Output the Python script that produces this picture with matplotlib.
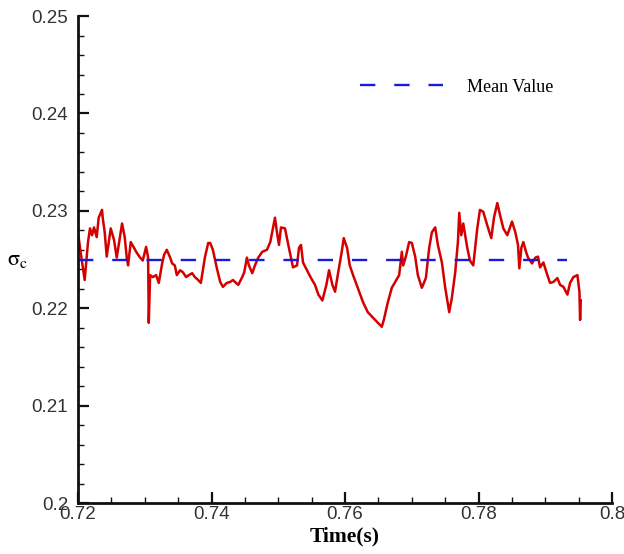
import numpy as np
import matplotlib
matplotlib.use('Agg')
import matplotlib.pyplot as plt
from matplotlib.ticker import MultipleLocator

# ---- data ----
time_s = [0.7200, 0.7203, 0.7210, 0.7215, 0.7218, 0.7221, 0.7224, 0.7228, 0.7231, 0.7236,
          0.7237, 0.7240, 0.7243, 0.7249, 0.7254, 0.7258, 0.7266, 0.7270, 0.7273, 0.7275,
          0.7279, 0.7284, 0.7288, 0.7293, 0.7297, 0.7302, 0.7305, 0.7306, 0.7308, 0.7312,
          0.7317, 0.7321, 0.7326, 0.7329, 0.7333, 0.7338, 0.7341, 0.7345, 0.7348, 0.7353,
          0.7357, 0.7362, 0.7366, 0.7371, 0.7375, 0.7380, 0.7384, 0.7390, 0.7395, 0.7398,
          0.7402, 0.7408, 0.7413, 0.7417, 0.7423, 0.7428, 0.7432, 0.7440, 0.7446, 0.7449,
          0.7453, 0.7456, 0.7461, 0.7465, 0.7470, 0.7476, 0.7483, 0.7488, 0.7492, 0.7495,
          0.7498, 0.7501, 0.7504, 0.7510, 0.7515, 0.7519, 0.7522, 0.7528, 0.7531, 0.7534,
          0.7537, 0.7543, 0.7549, 0.7555, 0.7560, 0.7566, 0.7572, 0.7576, 0.7581, 0.7585,
          0.7589, 0.7595, 0.7598, 0.7603, 0.7607, 0.7612, 0.7619, 0.7627, 0.7634, 0.7645,
          0.7655, 0.7658, 0.7664, 0.7670, 0.7675, 0.7681, 0.7685, 0.7687, 0.7691, 0.7696,
          0.7700, 0.7705, 0.7709, 0.7715, 0.7721, 0.7726, 0.7730, 0.7735, 0.7739, 0.7745,
          0.7750, 0.7756, 0.7760, 0.7765, 0.7769, 0.7771, 0.7774, 0.7777, 0.7783, 0.7787,
          0.7792, 0.7798, 0.7802, 0.7807, 0.7813, 0.7819, 0.7823, 0.7828, 0.7832, 0.7837,
          0.7843, 0.7850, 0.7855, 0.7859, 0.7861, 0.7864, 0.7867, 0.7871, 0.7874, 0.7880,
          0.7885, 0.7889, 0.7892, 0.7897, 0.7903, 0.7907, 0.7912, 0.7918, 0.7922, 0.7927,
          0.7933, 0.7937, 0.7942, 0.7948, 0.7951, 0.7952, 0.7953]

sigma_c = [0.2278, 0.2262, 0.2229, 0.2268, 0.2282, 0.2275, 0.2283, 0.2273, 0.2293, 0.2301,
           0.2293, 0.2278, 0.2253, 0.2282, 0.2270, 0.2252, 0.2287, 0.2273, 0.2252, 0.2244,
           0.2268, 0.2262, 0.2257, 0.2252, 0.2249, 0.2263, 0.2252, 0.2185, 0.2234, 0.2232,
           0.2234, 0.2226, 0.2246, 0.2255, 0.2260, 0.2252, 0.2246, 0.2244, 0.2234, 0.2239,
           0.2237, 0.2232, 0.2234, 0.2236, 0.2232, 0.2229, 0.2226, 0.2252, 0.2267, 0.2267,
           0.2260, 0.2241, 0.2227, 0.2222, 0.2226, 0.2227, 0.2229, 0.2224, 0.2232, 0.2237,
           0.2252, 0.2244, 0.2236, 0.2244, 0.2252, 0.2258, 0.2260, 0.2268, 0.2282, 0.2293,
           0.2278, 0.2265, 0.2283, 0.2282, 0.2265, 0.2252, 0.2242, 0.2244, 0.2262, 0.2265,
           0.2247, 0.2239, 0.2231, 0.2224, 0.2214, 0.2208, 0.2224, 0.2239, 0.2224, 0.2217,
           0.2234, 0.2258, 0.2272, 0.2262, 0.2244, 0.2234, 0.2221, 0.2206, 0.2196, 0.2188,
           0.2181, 0.2188, 0.2206, 0.2221, 0.2227, 0.2234, 0.2258, 0.2244, 0.2253, 0.2268,
           0.2267, 0.2253, 0.2234, 0.2221, 0.2231, 0.2262, 0.2278, 0.2283, 0.2265, 0.2247,
           0.2221, 0.2196, 0.2211, 0.2237, 0.2268, 0.2298, 0.2275, 0.2287, 0.2262, 0.2249,
           0.2244, 0.2282, 0.2301, 0.2299, 0.2285, 0.2272, 0.2293, 0.2308, 0.2296, 0.2282,
           0.2275, 0.2289, 0.2278, 0.2265, 0.2241, 0.2262, 0.2268, 0.2258, 0.2252, 0.2246,
           0.2252, 0.2253, 0.2242, 0.2247, 0.2234, 0.2226, 0.2227, 0.2231, 0.2224, 0.2222,
           0.2214, 0.2226, 0.2232, 0.2234, 0.2217, 0.2188, 0.2208]

mean_value = 0.225
mean_span = [0.7200, 0.7933]

x_ticks = [0.72, 0.74, 0.76, 0.78, 0.80]
x_labels = ['0.72', '0.74', '0.76', '0.78', '0.8']
y_ticks = [0.20, 0.21, 0.22, 0.23, 0.24, 0.25]
y_labels = ['0.2', '0.21', '0.22', '0.23', '0.24', '0.25']

plt.rcParams['mathtext.fontset'] = 'stix'

# ---- figure ----
fig = plt.figure(figsize=(6.24, 5.54), dpi=100)
ax = fig.add_axes([0.125, 0.092, 0.856, 0.879])

ax.plot(time_s, sigma_c, color='#d40000', lw=1.8)
ax.plot(mean_span, [mean_value, mean_value], color='#1a1adc', lw=1.7,
        dashes=(6.5, 8), label='Mean Value')

ax.set_xlim(0.72, 0.80)
ax.set_ylim(0.20, 0.25)
ax.set_xticks(x_ticks)
ax.set_yticks(y_ticks)
ax.xaxis.set_minor_locator(MultipleLocator(0.005))
ax.yaxis.set_minor_locator(MultipleLocator(0.002))
ax.set_xticklabels(x_labels)
ax.set_yticklabels(y_labels)

for s in ['top', 'right']:
    ax.spines[s].set_visible(False)
for s in ['left', 'bottom']:
    ax.spines[s].set_linewidth(2.0)
    ax.spines[s].set_color('#111111')

ax.tick_params(which='major', direction='in', length=8, width=1.6, color='#111111',
               labelsize=13.5, labelcolor='#333333')
ax.tick_params(axis='y', which='major', pad=7)
ax.tick_params(axis='x', which='major', pad=2)
ax.tick_params(which='minor', direction='in', length=4.5, width=1.0, color='#111111')
for lab in ax.get_xticklabels() + ax.get_yticklabels():
    lab.set_family('Liberation Sans')

ax.set_xlabel('Time(s)', family='Liberation Serif', fontweight='bold', fontsize=15.5,
              va='center')
ax.xaxis.set_label_coords(0.5, -0.068)
ax.set_ylabel(r'$\mathrm{\sigma_c}$', fontsize=16, rotation=0, va='center', ha='center')
ax.yaxis.set_label_coords(-0.114, 0.499)

ax.legend(loc='center left', bbox_to_anchor=(0.528, 0.854), frameon=False,
          handlelength=4.6, handletextpad=1.3, borderpad=0, borderaxespad=0,
          prop={'family': 'Liberation Serif', 'size': 13})

fig.savefig('out.png', dpi=100)
